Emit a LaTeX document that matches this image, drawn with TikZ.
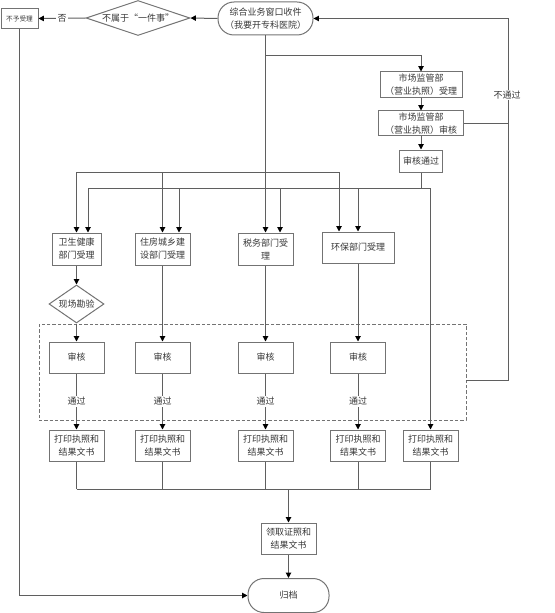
\documentclass[tikz,border=0pt]{standalone}
\usepackage{fontspec}
\newfontfamily\cjk{Noto Sans CJK SC}
\usetikzlibrary{arrows.meta,shapes.geometric}

\definecolor{linegray}{RGB}{95,95,95}
\definecolor{boxgray}{RGB}{115,115,115}
\definecolor{txtgray}{RGB}{55,55,55}

\tikzset{every picture/.style={line width=0.75pt}}
\tikzset{
  flowbox/.style 2 args={rectangle, draw=boxgray, inner sep=0pt, minimum width=#1*0.75pt, minimum height=#2*0.75pt, align=center, text=txtgray, font=\cjk\fontsize{6.75}{9.75}\selectfont},
  flowtip/.style 2 args={flowbox={#1}{#2}, rounded corners=12pt},
  decide/.style 2 args={diamond, draw=boxgray, inner sep=0pt, minimum width=#1*0.75pt, minimum height=#2*0.75pt, align=center, text=txtgray, font=\cjk\fontsize{6.75}{9.75}\selectfont},
  link/.style={draw=linegray},
  arr/.style={link, -{Triangle[length=4pt,width=4pt,color=black]}},
  onlink/.style={fill=white, inner sep=1pt, text=txtgray, font=\cjk\fontsize{6.75}{9.75}\selectfont},
}

\begin{document}
\begin{tikzpicture}[x=0.75pt,y=0.75pt,yscale=-1,xscale=1]
	\useasboundingbox (0,0) rectangle (554,613);

	%Shape: Rectangle [reject]
	\node[flowbox={37}{20}, font=\cjk\fontsize{5}{6}\selectfont] (reject) at (19.5,18.5) {不予受理};
	%Shape: Diamond [scope]
	\node[decide={104}{35}, aspect=3] (scope) at (138,18) {不属于“一件事”};
	%Shape: Rounded Rectangle [start]
	\node[flowtip={95}{33}] (start) at (265.5,18.5) {综合业务窗口收件\\（我要开专科医院）};

	%Shape: Rectangle [market]
	\node[flowbox={82}{26}] (mkt1) at (421,85) {市场监管部\\（营业执照）受理};
	\node[flowbox={85}{25}] (mkt2) at (421,123.5) {市场监管部\\（营业执照）审核};
	\node[flowbox={43}{22}] (pass) at (421,161) {审核通过};

	%Shape: Rectangle [departments]
	\node[flowbox={49}{32}] (health) at (76.5,249) {卫生健康\\部门受理};
	\node[flowbox={55}{32}] (housing) at (162.5,249) {住房城乡建\\设部门受理};
	\node[flowbox={55}{32}] (tax) at (265.5,249) {税务部门受\\理};
	\node[flowbox={72}{31}] (env) at (358,247.5) {环保部门受理};
	%Shape: Diamond [survey]
	\node[decide={55}{38}, aspect=1.45] (survey) at (76.5,304) {现场勘验};

	%Shape: Rectangle [review, dashed]
	\draw[boxgray, dash pattern=on 2.5pt off 1.5pt] (39,324) rectangle (466,420);
	\foreach \n/\x in {1/76.5,2/162.5,3/265.5,4/358}
	  \node[flowbox={55}{31}] (audit\n) at (\x,357.5) {审核};

	%Shape: Rectangle [print]
	\foreach \n/\x in {1/76.5,2/162.5,3/265.5,4/358,5/430.5}
	  \node[flowbox={55}{31}] (print\n) at (\x,445.5) {打印执照和\\结果文书};

	\node[flowbox={55}{31}] (collect) at (288.5,538.5) {领取证照和\\结果文书};
	%Shape: Rounded Rectangle [archive]
	\node[flowtip={81}{34}] (archive) at (288.5,595.5) {归档};

	\coordinate (fork) at (265.5,56);
	\coordinate (busA) at (0,172);
	\coordinate (busB) at (0,188);
	\coordinate (busC) at (0,489);
	\coordinate (fail) at (466,380);
	\coordinate (loopTop) at (508,18.5);

	%Straight Lines [top row]
	\draw[arr] (start.west) -- (scope.east);
	\draw[arr] (scope.west) -- node[onlink] {否} (reject.east);
	\draw[arr] (reject.south) |- (archive.west);

	%Straight Lines [trunk and market]
	\draw[arr] (start.south) -- (tax.north);
	\draw[arr] (fork) -| (mkt1.north);
	\draw[arr] (mkt1) -- (mkt2);
	\draw[arr] (mkt2) -- (pass);

	%Straight Lines [bus from window]
	\draw[link] (health.north |- busA) -- ([xshift=-14.25pt]env.north |- busA);
	\foreach \n in {health,housing}
	  \draw[arr] (\n.north |- busA) -- (\n.north);
	\draw[arr] ([xshift=-14.25pt]env.north |- busA) -- ([xshift=-14.25pt]env.north);

	%Straight Lines [bus from market]
	\draw[link] (pass.south) -- (pass.south |- busB);
	\draw[link] ([xshift=8.625pt]health.north |- busB) -- (print5.north |- busB);
	\foreach \n/\d in {health/8.625,housing/12.375,tax/10.875,env/0}
	  \draw[arr] ([xshift=\d pt]\n.north |- busB) -- ([xshift=\d pt]\n.north);
	\draw[arr] (print5.north |- busB) -- (print5.north);

	%Straight Lines [review]
	\draw[arr] (health) -- (survey);
	\draw[arr] (survey) -- (audit1);
	\draw[arr] (housing) -- (audit2);
	\draw[arr] (tax) -- (audit3);
	\draw[arr] (env) -- (audit4);
	\foreach \n in {1,...,4}
	  \draw[arr] (audit\n) -- node[onlink] {通过} (print\n);

	%Straight Lines [not passed]
	\draw[arr] (fail) -| (loopTop) -- (start.east);
	\draw[link] (mkt2.east) -- (mkt2.east -| loopTop);
	% Text Node
	\node[onlink] (failtxt) at (507,95) {不通过};

	%Straight Lines [collect]
	\draw[link] (print1.south |- busC) -- (print5.south |- busC);
	\foreach \n in {1,...,5}
	  \draw[link] (print\n.south) -- (print\n.south |- busC);
	\draw[arr] (collect.north |- busC) -- (collect.north);
	\draw[arr] (collect) -- (archive);

\end{tikzpicture}
\end{document}
